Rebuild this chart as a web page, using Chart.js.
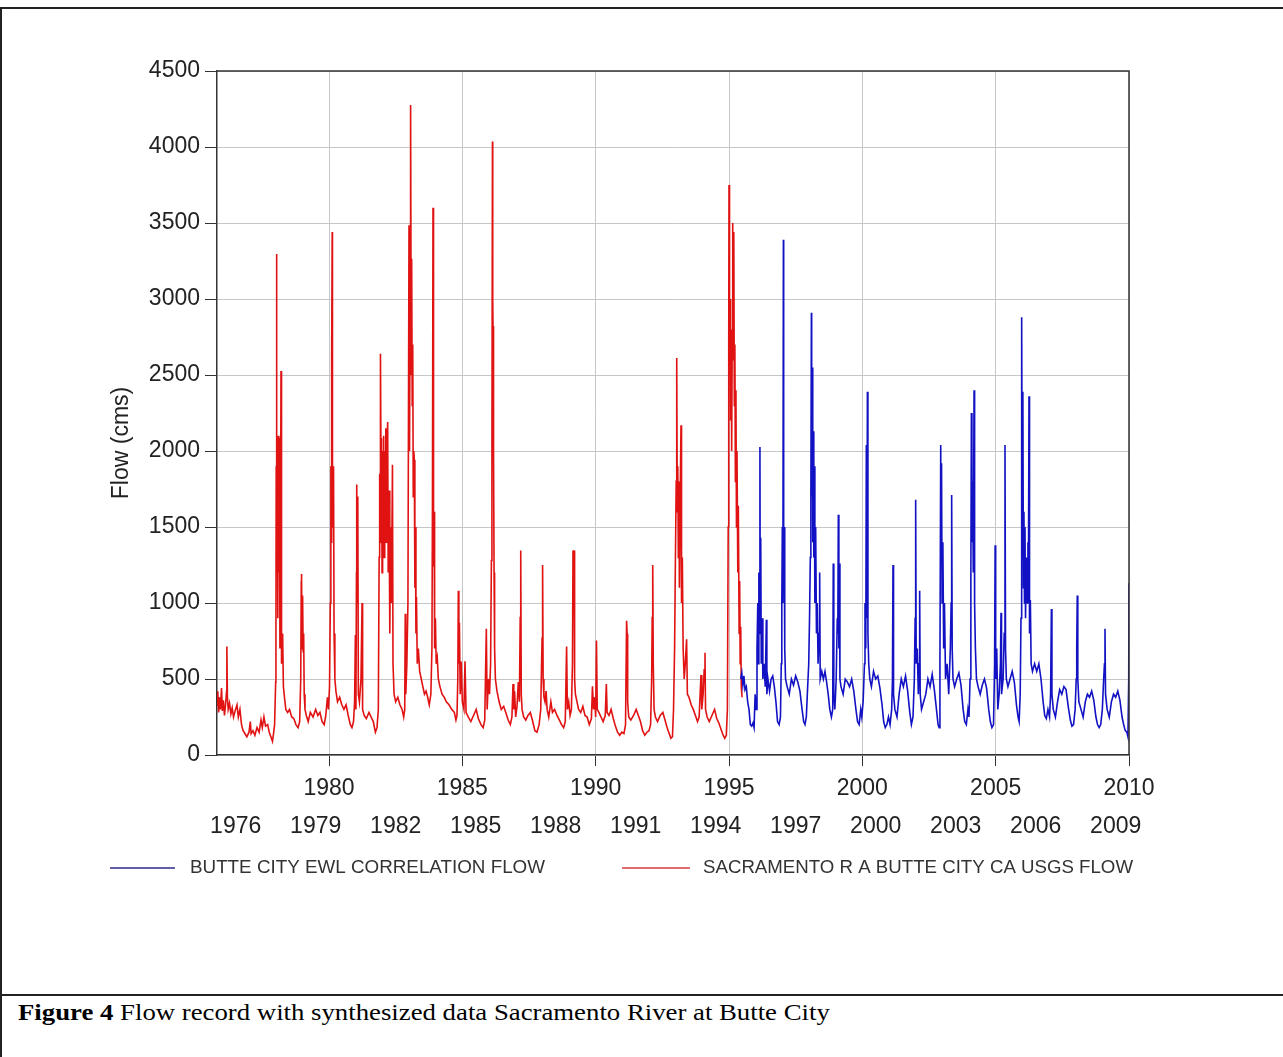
<!DOCTYPE html>
<html>
<head>
<meta charset="utf-8">
<title>Flow record - Sacramento River at Butte City</title>
<script src="https://cdn.jsdelivr.net/npm/chart.js@4.4.0/dist/chart.umd.min.js"></script>
<style>
  html, body { margin: 0; padding: 0; background: #fff; }
  #wrap { position: relative; width: 1283px; height: 1057px; overflow: hidden; }
  #frame { position: absolute; left: 0; top: 7px; width: 1300px; height: 1100px;
           border-left: 2px solid #222; border-top: 2px solid #222; }
  #rule { position: absolute; left: 0; top: 994px; width: 1283px; border-top: 2px solid #222; }
  #caption { position: absolute; left: 18px; top: 999px; white-space: nowrap; color: #000;
             font: 24px "Liberation Serif", "Times New Roman", serif;
             transform-origin: 0 0; transform: scaleX(1.115); }
  #chart { position: absolute; left: 0; top: 0; }
</style>
</head>
<body>
<div id="wrap">
  <div id="frame"></div>
  <div id="rule"></div>
  <canvas id="chart" width="1283" height="990"></canvas>
  <div id="caption"><b>Figure 4</b> Flow record with synthesized data Sacramento River at Butte City</div>
</div>
<script>
// ---- data (decimal year, flow in cms) ----
const gridYears = [1980, 1985, 1990, 1995, 2000, 2005, 2010];
const waterYears = [1976, 1979, 1982, 1985, 1988, 1991, 1994, 1997, 2000, 2003, 2006, 2009];
const flowTicks = [0, 500, 1000, 1500, 2000, 2500, 3000, 3500, 4000, 4500];

// USGS gauge record (red)
const usgsFlow = [
  [1975.80,330],[1975.83,420],[1975.86,280],[1975.90,380],[1975.93,300],[1975.97,440],[1976.00,290],
  [1976.04,360],[1976.08,260],[1976.12,330],[1976.16,420],[1976.17,714],[1976.19,380],[1976.22,300],
  [1976.27,340],[1976.32,270],[1976.37,310],[1976.42,250],[1976.48,290],[1976.55,330],[1976.60,250],
  [1976.66,300],[1976.72,200],[1976.78,160],[1976.85,140],[1976.92,120],[1977.00,150],[1977.05,220],
  [1977.08,140],[1977.15,160],[1977.22,130],[1977.30,180],[1977.38,150],[1977.45,230],[1977.50,180],
  [1977.56,250],[1977.62,190],[1977.70,200],[1977.76,150],[1977.82,120],[1977.88,90],[1977.92,140],
  [1977.96,200],[1978.00,480],[1978.01,760],[1978.02,1900],[1978.03,3296],[1978.045,1500],[1978.06,2080],
  [1978.08,900],[1978.10,2100],[1978.12,1200],[1978.14,2085],[1978.16,700],[1978.18,1300],[1978.20,2527],
  [1978.21,1054],[1978.23,600],[1978.26,800],[1978.29,450],[1978.33,380],[1978.38,300],[1978.45,280],
  [1978.52,300],[1978.60,250],[1978.68,240],[1978.76,200],[1978.84,180],[1978.90,220],[1978.94,500],
  [1978.96,1140],[1978.97,1190],[1978.99,700],[1979.01,1050],[1979.03,680],[1979.05,800],[1979.07,400],
  [1979.10,300],[1979.15,260],[1979.22,220],[1979.30,280],[1979.40,250],[1979.50,300],[1979.58,260],
  [1979.66,280],[1979.74,220],[1979.82,200],[1979.88,260],[1979.94,380],[1979.98,300],[1980.02,450],
  [1980.05,1000],[1980.07,1900],[1980.08,1400],[1980.10,2608],[1980.12,3440],[1980.13,1940],[1980.15,1500],
  [1980.17,1900],[1980.19,800],[1980.22,500],[1980.26,420],[1980.32,350],[1980.40,380],[1980.48,330],
  [1980.56,300],[1980.64,330],[1980.72,260],[1980.80,200],[1980.86,180],[1980.92,220],[1980.96,350],
  [1980.99,790],[1981.01,300],[1981.03,1200],[1981.04,1780],[1981.06,1000],[1981.08,1700],[1981.10,400],
  [1981.14,350],[1981.20,500],[1981.24,1000],[1981.26,300],[1981.32,260],[1981.40,240],[1981.50,280],
  [1981.58,250],[1981.66,220],[1981.74,150],[1981.80,180],[1981.85,300],[1981.88,1300],[1981.90,1850],
  [1981.92,1400],[1981.93,2640],[1981.95,1900],[1981.97,2085],[1981.99,1200],[1982.01,2000],[1982.03,1500],
  [1982.05,2100],[1982.07,1300],[1982.09,2000],[1982.11,1600],[1982.13,2150],[1982.15,1400],[1982.17,2000],
  [1982.20,2190],[1982.22,1200],[1982.25,1740],[1982.28,800],[1982.31,1500],[1982.34,1000],[1982.38,1910],
  [1982.40,600],[1982.44,400],[1982.50,350],[1982.58,380],[1982.66,330],[1982.74,300],[1982.80,250],
  [1982.84,300],[1982.86,930],[1982.88,400],[1982.92,600],[1982.96,1000],[1982.98,2200],[1983.00,3485],
  [1983.02,2000],[1983.04,3000],[1983.05,2500],[1983.07,4277],[1983.08,2800],[1983.10,3265],[1983.12,2300],
  [1983.14,2700],[1983.16,1700],[1983.18,2000],[1983.20,1940],[1983.22,1100],[1983.24,1500],[1983.26,800],
  [1983.28,1040],[1983.31,600],[1983.35,700],[1983.40,550],[1983.46,500],[1983.52,450],[1983.58,400],
  [1983.64,420],[1983.70,380],[1983.76,330],[1983.82,400],[1983.86,700],[1983.88,1670],[1983.90,3600],
  [1983.92,1240],[1983.94,1600],[1983.96,700],[1983.99,900],[1984.02,600],[1984.06,640],[1984.10,500],
  [1984.16,450],[1984.24,400],[1984.32,380],[1984.40,350],[1984.50,330],[1984.60,300],[1984.70,280],
  [1984.76,230],[1984.80,260],[1984.83,500],[1984.85,1080],[1984.87,600],[1984.89,870],[1984.92,400],
  [1984.96,615],[1985.00,350],[1985.06,300],[1985.10,617],[1985.14,280],[1985.22,250],[1985.32,220],
  [1985.42,260],[1985.52,300],[1985.60,240],[1985.70,200],[1985.78,180],[1985.84,230],[1985.90,830],
  [1985.93,300],[1985.98,500],[1986.02,400],[1986.06,600],[1986.09,1280],[1986.11,2000],[1986.13,4036],
  [1986.14,3000],[1986.15,2822],[1986.17,2000],[1986.19,1200],[1986.21,700],[1986.24,500],[1986.30,420],
  [1986.38,350],[1986.46,300],[1986.55,320],[1986.63,280],[1986.72,230],[1986.80,200],[1986.86,250],
  [1986.90,467],[1986.93,300],[1986.96,420],[1987.00,250],[1987.05,320],[1987.10,480],[1987.14,350],
  [1987.17,904],[1987.19,1346],[1987.21,400],[1987.24,300],[1987.30,250],[1987.38,230],[1987.46,260],
  [1987.55,280],[1987.64,220],[1987.72,160],[1987.80,150],[1987.88,200],[1987.94,300],[1987.99,768],
  [1988.01,1250],[1988.03,500],[1988.06,380],[1988.10,350],[1988.14,420],[1988.18,300],[1988.24,250],
  [1988.32,350],[1988.38,280],[1988.46,300],[1988.55,260],[1988.64,230],[1988.72,200],[1988.80,180],
  [1988.86,220],[1988.91,714],[1988.94,300],[1988.99,350],[1989.04,260],[1989.09,300],[1989.13,600],
  [1989.15,1346],[1989.17,1300],[1989.19,1346],[1989.21,500],[1989.24,400],[1989.30,350],[1989.36,300],
  [1989.44,280],[1989.52,320],[1989.60,260],[1989.68,250],[1989.76,200],[1989.84,240],[1989.88,452],
  [1989.92,300],[1989.96,380],[1990.00,250],[1990.03,753],[1990.06,300],[1990.12,280],[1990.20,250],
  [1990.28,220],[1990.36,260],[1990.40,467],[1990.43,280],[1990.50,260],[1990.58,300],[1990.66,240],
  [1990.74,190],[1990.82,150],[1990.90,130],[1990.98,150],[1991.06,140],[1991.12,200],[1991.16,883],
  [1991.18,798],[1991.20,350],[1991.24,250],[1991.32,230],[1991.42,260],[1991.52,300],[1991.60,260],
  [1991.68,220],[1991.76,160],[1991.84,130],[1991.92,150],[1992.00,160],[1992.06,200],[1992.10,500],
  [1992.12,904],[1992.14,1250],[1992.16,600],[1992.19,300],[1992.24,250],[1992.32,220],[1992.42,260],
  [1992.52,280],[1992.60,230],[1992.68,180],[1992.76,140],[1992.82,110],[1992.88,120],[1992.92,300],
  [1992.96,700],[1992.98,1100],[1993.02,1800],[1993.04,2612],[1993.06,1600],[1993.08,1900],[1993.10,1300],
  [1993.12,1800],[1993.14,1100],[1993.17,1700],[1993.20,2169],[1993.22,1000],[1993.25,1300],[1993.28,700],
  [1993.32,500],[1993.36,600],[1993.41,762],[1993.44,400],[1993.50,380],[1993.58,330],[1993.66,300],
  [1993.74,260],[1993.82,220],[1993.88,250],[1993.95,527],[1993.98,300],[1994.03,400],[1994.07,560],
  [1994.10,672],[1994.12,300],[1994.18,250],[1994.26,220],[1994.36,260],[1994.46,300],[1994.54,240],
  [1994.62,210],[1994.70,170],[1994.78,130],[1994.84,110],[1994.90,130],[1994.94,300],[1994.97,1500],
  [1994.99,2700],[1995.00,3750],[1995.02,2600],[1995.04,3000],[1995.06,2200],[1995.08,2800],[1995.10,2000],
  [1995.12,2700],[1995.14,3500],[1995.16,2600],[1995.18,3440],[1995.20,2300],[1995.22,2700],[1995.24,1800],
  [1995.26,2400],[1995.28,1500],[1995.30,2000],[1995.33,1200],[1995.35,1640],[1995.38,800],[1995.40,1144],
  [1995.42,600],[1995.44,844],[1995.46,450],[1995.49,380]
];

// EWL correlation (synthesized, blue)
const ewlFlow = [
  [1995.44,500],[1995.48,540],[1995.52,460],[1995.56,520],[1995.60,430],[1995.65,450],[1995.70,350],
  [1995.75,300],[1995.80,200],[1995.85,190],[1995.90,210],[1995.94,180],[1995.98,400],[1996.02,300],
  [1996.05,700],[1996.08,1000],[1996.10,600],[1996.12,1200],[1996.14,800],[1996.16,2027],[1996.17,1000],
  [1996.19,1430],[1996.21,600],[1996.24,900],[1996.27,500],[1996.31,600],[1996.36,450],[1996.40,890],
  [1996.42,400],[1996.46,500],[1996.52,420],[1996.58,500],[1996.64,520],[1996.70,450],[1996.76,350],
  [1996.82,220],[1996.88,200],[1996.93,250],[1996.96,600],[1996.98,1000],[1997.00,1500],[1997.02,1000],
  [1997.04,3390],[1997.05,1200],[1997.07,1500],[1997.09,700],[1997.12,500],[1997.18,450],[1997.26,400],
  [1997.34,500],[1997.42,460],[1997.50,520],[1997.58,480],[1997.66,420],[1997.74,300],[1997.80,220],
  [1997.85,200],[1997.90,250],[1997.95,450],[1997.99,600],[1998.02,900],[1998.05,1300],[1998.07,1700],
  [1998.09,2910],[1998.10,1700],[1998.12,2550],[1998.14,1400],[1998.16,2130],[1998.18,1300],[1998.20,1900],
  [1998.22,1000],[1998.25,1500],[1998.28,800],[1998.31,1000],[1998.34,600],[1998.38,800],[1998.40,1200],
  [1998.42,500],[1998.48,550],[1998.54,500],[1998.60,550],[1998.66,480],[1998.72,400],[1998.78,300],
  [1998.84,250],[1998.89,300],[1998.91,1260],[1998.93,400],[1998.97,300],[1999.02,500],[1999.06,900],
  [1999.08,800],[1999.10,1580],[1999.12,700],[1999.14,1260],[1999.16,500],[1999.20,450],[1999.28,400],
  [1999.36,500],[1999.44,480],[1999.52,450],[1999.60,500],[1999.68,420],[1999.76,300],[1999.82,220],
  [1999.88,200],[1999.94,300],[1999.98,250],[2000.03,350],[2000.08,600],[2000.10,1000],[2000.13,700],
  [2000.15,2040],[2000.17,900],[2000.19,2390],[2000.21,800],[2000.24,600],[2000.28,500],[2000.34,450],
  [2000.42,550],[2000.50,500],[2000.58,520],[2000.66,440],[2000.74,330],[2000.80,220],[2000.86,180],
  [2000.92,200],[2000.98,250],[2001.04,200],[2001.10,300],[2001.13,500],[2001.15,1250],[2001.17,400],
  [2001.22,300],[2001.30,250],[2001.38,400],[2001.46,500],[2001.54,450],[2001.62,520],[2001.70,420],
  [2001.78,280],[2001.84,200],[2001.90,250],[2001.95,500],[2001.98,900],[2002.00,1680],[2002.02,600],
  [2002.06,700],[2002.10,400],[2002.13,600],[2002.15,1080],[2002.17,400],[2002.22,300],[2002.30,350],
  [2002.38,400],[2002.46,500],[2002.54,450],[2002.62,530],[2002.70,430],[2002.78,300],[2002.84,200],
  [2002.88,180],[2002.91,600],[2002.94,2040],[2002.95,1300],[2002.97,1920],[2002.99,1000],[2003.02,1400],
  [2003.05,700],[2003.08,1000],[2003.12,500],[2003.18,600],[2003.24,400],[2003.30,700],[2003.33,1000],
  [2003.35,1710],[2003.37,700],[2003.40,500],[2003.46,450],[2003.54,500],[2003.62,540],[2003.70,460],
  [2003.78,300],[2003.84,220],[2003.90,200],[2003.96,300],[2004.00,250],[2004.04,500],[2004.07,1200],
  [2004.09,2250],[2004.11,1400],[2004.14,1800],[2004.16,1200],[2004.19,2400],[2004.21,1000],[2004.24,700],
  [2004.28,500],[2004.34,450],[2004.42,400],[2004.50,460],[2004.58,500],[2004.66,440],[2004.74,300],
  [2004.80,220],[2004.86,180],[2004.92,200],[2004.96,600],[2004.98,1380],[2005.00,500],[2005.04,700],
  [2005.08,300],[2005.13,400],[2005.18,600],[2005.20,935],[2005.22,400],[2005.28,500],[2005.32,800],
  [2005.35,2040],[2005.37,700],[2005.40,500],[2005.46,450],[2005.54,500],[2005.62,550],[2005.70,480],
  [2005.78,330],[2005.84,250],[2005.88,220],[2005.92,400],[2005.95,900],[2005.97,1500],[2005.98,2880],
  [2006.00,1300],[2006.02,2390],[2006.04,1100],[2006.06,1600],[2006.08,1000],[2006.10,1500],[2006.12,900],
  [2006.15,1300],[2006.18,1000],[2006.21,1400],[2006.23,1200],[2006.25,2360],[2006.27,800],[2006.30,1020],
  [2006.33,600],[2006.38,550],[2006.46,600],[2006.54,550],[2006.62,600],[2006.70,500],[2006.78,350],
  [2006.84,260],[2006.90,240],[2006.96,300],[2007.02,250],[2007.06,400],[2007.09,960],[2007.11,400],
  [2007.16,300],[2007.24,250],[2007.32,350],[2007.40,430],[2007.48,400],[2007.56,450],[2007.64,430],
  [2007.72,320],[2007.80,230],[2007.86,190],[2007.92,200],[2007.98,300],[2008.02,500],[2008.04,700],
  [2008.06,1050],[2008.08,500],[2008.12,350],[2008.20,300],[2008.28,250],[2008.36,350],[2008.44,400],
  [2008.52,380],[2008.60,420],[2008.68,360],[2008.76,250],[2008.82,200],[2008.88,180],[2008.94,200],
  [2009.00,300],[2009.05,500],[2009.08,600],[2009.10,830],[2009.12,400],[2009.18,300],[2009.26,250],
  [2009.34,350],[2009.42,400],[2009.50,380],[2009.58,420],[2009.66,360],[2009.74,250],[2009.80,200],
  [2009.86,160],[2009.92,150],[2009.96,120],[2009.99,500],[2010.00,1130]
];

const FONT = '"Liberation Sans", Arial, sans-serif';
const toPts = arr => arr.map(([x, y]) => ({ x, y }));

// extra drawing: box, axis title, legend
const extras = {
  id: 'extras',
  afterDraw(chart) {
    const { ctx, chartArea: a } = chart;
    ctx.save();
    ctx.strokeStyle = '#333';
    ctx.lineWidth = 1.5;
    ctx.beginPath();
    ctx.moveTo(a.left, a.top);
    ctx.lineTo(a.right, a.top);
    ctx.lineTo(a.right, a.bottom);
    ctx.stroke();

    // y axis title
    ctx.fillStyle = '#222';
    ctx.font = '23px ' + FONT;
    ctx.textAlign = 'center';
    ctx.textBaseline = 'middle';
    ctx.translate(122, 443);
    ctx.rotate(-Math.PI / 2);
    ctx.fillText('Flow (cms)', 0, 0, 122);
    ctx.restore();

    // legend
    const items = [
      { ds: chart.data.datasets[0], x0: 110, x1: 175, tx: 190, w: 355, col: '#2b2b8a' },
      { ds: chart.data.datasets[1], x0: 622, x1: 690, tx: 703, w: 430, col: '#d83a3a' }
    ];
    ctx.save();
    ctx.font = '19px ' + FONT;
    ctx.textBaseline = 'middle';
    ctx.fillStyle = '#333';
    items.forEach(it => {
      ctx.strokeStyle = it.col;
      ctx.lineWidth = 1.5;
      ctx.beginPath();
      ctx.moveTo(it.x0, 868);
      ctx.lineTo(it.x1, 868);
      ctx.stroke();
      ctx.fillText(it.ds.label, it.tx, 868, it.w);
    });
    ctx.restore();
  }
};

new Chart(document.getElementById('chart'), {
  type: 'line',
  data: {
    datasets: [
      { label: 'BUTTE CITY EWL CORRELATION FLOW', data: toPts(ewlFlow), borderColor: '#1212c4', borderWidth: 1.6 },
      { label: 'SACRAMENTO R A BUTTE CITY CA USGS FLOW', data: toPts(usgsFlow), borderColor: '#e01212', borderWidth: 1.6 }
    ]
  },
  options: {
    responsive: false,
    animation: false,
    devicePixelRatio: 1,
    parsing: false,
    elements: { point: { radius: 0 }, line: { tension: 0 } },
    layout: { padding: { left: 0, top: 71, right: 154, bottom: 137 } },
    plugins: { legend: { display: false }, tooltip: { enabled: false } },
    scales: {
      x: {
        type: 'linear', position: 'bottom', min: 1975.8, max: 2010,
        afterBuildTicks: s => { s.ticks = gridYears.map(v => ({ value: v })); },
        afterFit: s => { s.height = 58; },
        ticks: { callback: v => String(v), color: '#222', font: { family: FONT, size: 23 }, padding: 9, maxRotation: 0, autoSkip: false },
        grid: { color: '#c6c6c6', tickColor: '#333', tickLength: 11 },
        border: { color: '#333', width: 1.5 }
      },
      x2: {
        type: 'linear', position: 'bottom', min: 1975.8, max: 2010,
        afterBuildTicks: s => { s.ticks = waterYears.map(v => ({ value: v + 0.5 })); },
        afterFit: s => { s.height = 40; },
        ticks: { callback: (v, i) => String(waterYears[i]), color: '#222', font: { family: FONT, size: 23 }, padding: 0, maxRotation: 0, autoSkip: false },
        grid: { display: false, drawTicks: false },
        border: { display: false }
      },
      y: {
        min: 0, max: 4500,
        afterBuildTicks: s => { s.ticks = flowTicks.map(v => ({ value: v })); },
        afterFit: s => { s.width = 217; },
        ticks: { callback: v => String(v), color: '#222', font: { family: FONT, size: 23 }, padding: 5 },
        grid: { color: '#c6c6c6', tickColor: '#333', tickLength: 12 },
        border: { color: '#333', width: 1.5 }
      }
    }
  },
  plugins: [extras]
});
</script>
</body>
</html>
